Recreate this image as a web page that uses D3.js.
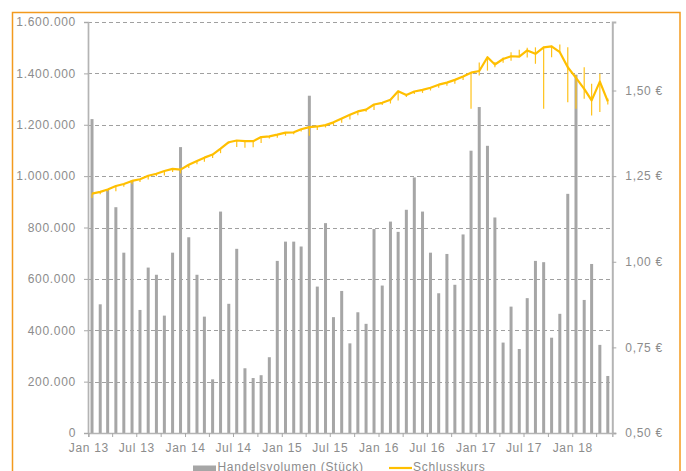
<!DOCTYPE html>
<html><head><meta charset="utf-8">
<script src="https://cdn.jsdelivr.net/npm/d3@7/dist/d3.min.js"></script>
<style>
html,body{margin:0;padding:0;background:#fff;}
svg{display:block;}
text{font-family:"Liberation Sans",Arial,sans-serif;font-size:12px;fill:#8c8c8c;letter-spacing:0.7px;}
</style></head>
<body><svg id="c" width="686" height="471"></svg>
<script>
const months = ["2013-01","2013-02","2013-03","2013-04","2013-05","2013-06","2013-07","2013-08","2013-09","2013-10","2013-11","2013-12",
"2014-01","2014-02","2014-03","2014-04","2014-05","2014-06","2014-07","2014-08","2014-09","2014-10","2014-11","2014-12",
"2015-01","2015-02","2015-03","2015-04","2015-05","2015-06","2015-07","2015-08","2015-09","2015-10","2015-11","2015-12",
"2016-01","2016-02","2016-03","2016-04","2016-05","2016-06","2016-07","2016-08","2016-09","2016-10","2016-11","2016-12",
"2017-01","2017-02","2017-03","2017-04","2017-05","2017-06","2017-07","2017-08","2017-09","2017-10","2017-11","2017-12",
"2018-01","2018-02","2018-03","2018-04","2018-05"];
const volume = [1222000,501000,949000,879000,702000,983000,479000,644000,616000,457000,702000,1113000,
762000,616000,453000,209000,862000,503000,717000,252000,214000,225000,295000,670000,
745000,745000,726000,1313000,570000,817000,451000,553000,349000,470000,425000,794000,
574000,823000,783000,869000,995000,862000,702000,544000,697000,577000,773000,1099000,
1269000,1118000,839000,352000,492000,327000,525000,670000,665000,371000,464000,931000,
1395000,518000,658000,343000,222000];
const close = [1.199,1.204,1.211,1.221,1.227,1.236,1.241,1.251,1.257,1.265,1.271,1.269,
1.283,1.294,1.304,1.313,1.330,1.349,1.354,1.352,1.352,1.364,1.366,1.371,
1.377,1.378,1.387,1.393,1.395,1.399,1.407,1.418,1.429,1.439,1.444,1.459,
1.464,1.473,1.498,1.487,1.497,1.502,1.508,1.517,1.523,1.531,1.541,1.552,
1.557,1.597,1.576,1.592,1.600,1.599,1.617,1.607,1.626,1.629,1.612,1.568,
1.537,1.505,1.471,1.526,1.468];
const high = [1.199,1.204,1.211,1.221,1.227,1.236,1.241,1.251,1.257,1.265,1.271,1.269,
1.283,1.294,1.304,1.313,1.330,1.349,1.354,1.352,1.352,1.364,1.366,1.371,
1.377,1.378,1.387,1.393,1.395,1.399,1.407,1.418,1.429,1.439,1.444,1.459,
1.464,1.473,1.498,1.487,1.497,1.502,1.508,1.517,1.523,1.531,1.541,1.553,
1.582,1.597,1.583,1.596,1.612,1.619,1.625,1.626,1.628,1.631,1.634,1.626,
1.544,1.568,1.520,1.549,1.477];
const low = [1.186,1.197,1.205,1.206,1.219,1.226,1.233,1.240,1.250,1.252,1.262,1.258,
1.274,1.285,1.292,1.303,1.317,1.345,1.335,1.333,1.334,1.347,1.360,1.362,
1.368,1.372,1.380,1.368,1.385,1.392,1.398,1.406,1.415,1.428,1.438,1.443,
1.458,1.462,1.471,1.481,1.490,1.493,1.500,1.508,1.514,1.520,1.531,1.447,
1.544,1.558,1.568,1.581,1.587,1.599,1.596,1.578,1.447,1.597,1.612,1.466,
1.447,1.476,1.427,1.437,1.459];
const leftTicks = [0,200000,400000,600000,800000,1000000,1200000,1400000,1600000];
const rightTicks = [0.50,0.75,1.00,1.25,1.50];
const legendLabels = ["Handelsvolumen (Stück)","Schlusskurs"];

const svg = d3.select("#c");
const parse = d3.timeParse("%Y-%m");
const dates = months.map(parse);
const mid = d => d3.timeDay.offset(d, 14);

const x = d3.scaleTime().domain([new Date(2013,0,1), new Date(2018,5,1)]).range([88.3, 612.3]);
const yL = d3.scaleLinear().domain([0,1600000]).range([433,22]);
const yR = d3.scaleLinear().domain([0.5,1.7]).range([433,22]);

// frame
svg.append("rect").attr("x",12.5).attr("y",12.5).attr("width",667.5).attr("height",480)
  .attr("fill","none").attr("stroke","#f39a1e").attr("stroke-width",1.5);

// gridlines
svg.append("g").selectAll("line").data(leftTicks.filter(d=>d>0)).join("line")
  .attr("x1",88).attr("x2",612).attr("y1",d=>Math.round(yL(d))+0.5).attr("y2",d=>Math.round(yL(d))+0.5)
  .attr("stroke","#a0a0a0").attr("stroke-width",1).attr("stroke-dasharray","4,3");

// bars
svg.append("g").selectAll("rect").data(volume).join("rect")
  .attr("x",(d,i)=>x(mid(dates[i]))-1.5).attr("width",3)
  .attr("y",d=>yL(d)).attr("height",d=>433-yL(d)).attr("fill","#a6a6a6");

// axes
const fmtL = d3.formatLocale({decimal:",",thousands:".",grouping:[3],currency:["","€"]}).format(",.0f");
const axL = svg.append("g").attr("transform","translate(88,0)")
  .call(d3.axisLeft(yL).tickValues(leftTicks).tickFormat(fmtL).tickSize(4).tickPadding(8));
const axR = svg.append("g").attr("transform","translate(612.3,0)")
  .call(d3.axisRight(yR).tickValues(rightTicks).tickFormat(d=>d3.format(".2f")(d).replace(".",",")+" €").tickSize(4).tickPadding(9));
const xTicks = d3.timeMonth.range(new Date(2013,0,1), new Date(2018,5,1), 3);
const mNames = {0:"Jan",6:"Jul"};
const axX = svg.append("g").attr("transform","translate(0,433)")
  .call(d3.axisBottom(x).tickValues(xTicks).tickFormat(d=> (d.getMonth()%6===0) ? mNames[d.getMonth()]+" "+String(d.getFullYear()).slice(2) : "").tickSize(4).tickPadding(6));
[axL,axR,axX].forEach(a=>{
  a.select(".domain").attr("stroke","#b4b4b4").attr("stroke-width",2);
  a.selectAll(".tick line").attr("stroke","#a8a8a8");
  a.selectAll("text").attr("fill","#8c8c8c").style("font-size","12px");
});
axX.select(".domain").attr("stroke-width",1.5);
axL.select(".domain").attr("stroke-width",1.7);

// whiskers
svg.append("g").selectAll("line").data(close).join("line")
  .attr("x1",(d,i)=>x(mid(dates[i]))).attr("x2",(d,i)=>x(mid(dates[i])))
  .attr("y1",(d,i)=>yR(high[i])).attr("y2",(d,i)=>yR(low[i]))
  .attr("stroke","#ffc21a").attr("stroke-width",1.2);

// close line
svg.append("path").datum(close)
  .attr("d", d3.line().x((d,i)=>x(mid(dates[i]))).y(d=>yR(d)))
  .attr("fill","none").attr("stroke","#ffbf00").attr("stroke-width",2.2).attr("stroke-linejoin","round");

// legend
const lg = svg.append("g");
lg.append("rect").attr("x",193).attr("y",465.5).attr("width",23).attr("height",6).attr("fill","#a6a6a6");
lg.append("text").attr("x",217.5).attr("y",471).text(legendLabels[0]);
lg.append("line").attr("x1",389).attr("x2",412).attr("y1",468).attr("y2",468).attr("stroke","#ffbf00").attr("stroke-width",2.2);
lg.append("text").attr("x",413).attr("y",471).text(legendLabels[1]);
</script></body></html>
